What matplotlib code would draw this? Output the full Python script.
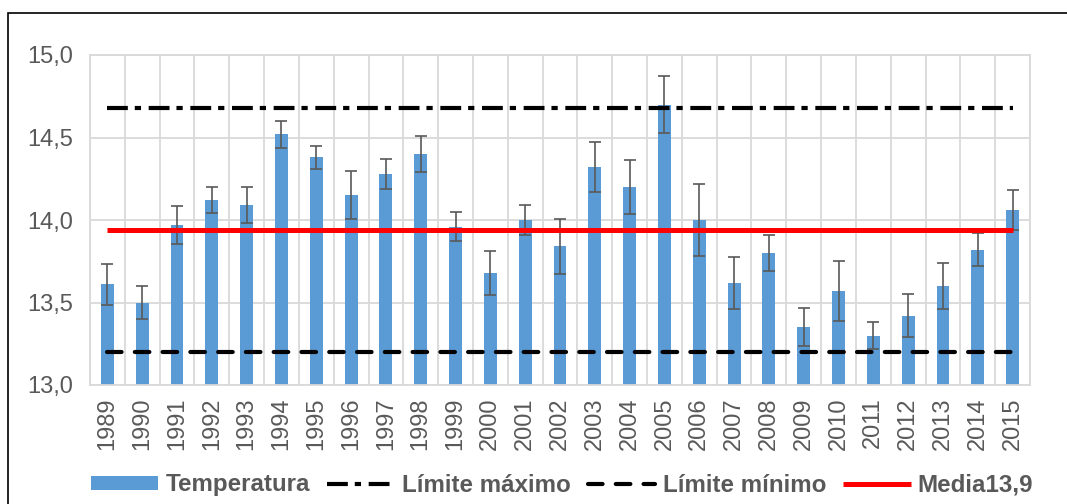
"""Temperatura media anual 1989-2015 con límites y media."""

import matplotlib
matplotlib.use("Agg")
import matplotlib.pyplot as plt
import numpy as np
from matplotlib.patches import Rectangle

years = [str(y) for y in range(1989, 2016)]
temperatura = [13.61, 13.50, 13.97, 14.12, 14.09, 14.52, 14.38, 14.15, 14.28, 14.40,
               13.96, 13.68, 14.00, 13.84, 14.32, 14.20, 14.70, 14.00, 13.62, 13.80,
               13.35, 13.57, 13.30, 13.42, 13.60, 13.82, 14.06]
error = [0.125, 0.10, 0.117, 0.08, 0.11, 0.083, 0.07, 0.145, 0.092, 0.11,
         0.09, 0.133, 0.093, 0.167, 0.153, 0.164, 0.172, 0.216, 0.158, 0.111,
         0.115, 0.183, 0.08, 0.13, 0.14, 0.10, 0.12]
limite_max = 14.68
limite_min = 13.20
media = 13.94
media_label = "Media13,9"

TEXT = "#595959"
GRID = "#D9D9D9"

plt.rcParams["font.family"] = ["Liberation Sans", "DejaVu Sans"]
plt.rcParams["lines.scale_dashes"] = False

fig = plt.figure(figsize=(10.67, 5.04), dpi=100)
ax = fig.add_axes([90 / 1067, 1 - 385 / 504, 940 / 1067, 330 / 504])

x = np.arange(len(years))
bars = ax.bar(x, temperatura, width=0.37, color="#5B9BD5", label="Temperatura", zorder=2)
ax.errorbar(x, temperatura, yerr=error, fmt="none", ecolor=TEXT, elinewidth=1.2,
            capsize=4, capthick=1.2, zorder=3)

l_max, = ax.plot([x[0], x[-1]], [limite_max] * 2, color="black", lw=3,
                 dashes=[15, 5, 4.5, 5.5], dash_capstyle="butt",
                 label="Límite máximo", zorder=4)
l_min, = ax.plot([x[0], x[-1]], [limite_min] * 2, color="black", lw=3,
                 dashes=[10.5, 9.5], dash_capstyle="round",
                 label="Límite mínimo", zorder=4)
l_med, = ax.plot([x[0], x[-1]], [media] * 2, color="#FF0000", lw=3.6,
                 solid_capstyle="butt", label=media_label, zorder=5)

ax.set_xlim(-0.5, len(years) - 0.5)
ax.set_ylim(13.0, 15.0)
yt = np.arange(13.0, 15.01, 0.5)
ax.set_yticks(yt)
ax.set_yticklabels([f"{v:.1f}".replace(".", ",") for v in yt])
ax.set_xticks(x)
ax.set_xticklabels(years, rotation=90)
ax.set_xticks(np.arange(-0.5, len(years), 1.0), minor=True)
ax.tick_params(axis="both", which="both", length=0, colors=TEXT, labelsize=17)
ax.tick_params(axis="y", pad=12)
ax.tick_params(axis="x", pad=9)
ax.grid(axis="y", which="major", color=GRID, lw=1.3, zorder=0)
ax.grid(axis="x", which="minor", color=GRID, lw=1.3, zorder=0)
ax.set_axisbelow(True)
for sp in ax.spines.values():
    sp.set_color(GRID)
    sp.set_linewidth(1.3)

leg = fig.legend([bars, l_max, l_min, l_med],
                 ["Temperatura", "Límite máximo", "Límite mínimo", media_label],
                 loc="center", bbox_to_anchor=(562 / 1067, 1 - 485 / 504), ncol=4,
                 frameon=False, handlelength=2.8, handleheight=0.55,
                 handletextpad=0.3, columnspacing=0.7,
                 prop={"size": 17.4, "weight": "bold"})
for t in leg.get_texts():
    t.set_color(TEXT)

fig.patches.append(Rectangle((8 / 1067, -0.5), 2.0, 1.5 - 13 / 504,
                             transform=fig.transFigure, fill=False,
                             edgecolor="black", lw=1.2))

fig.savefig("out.png", dpi=100)
